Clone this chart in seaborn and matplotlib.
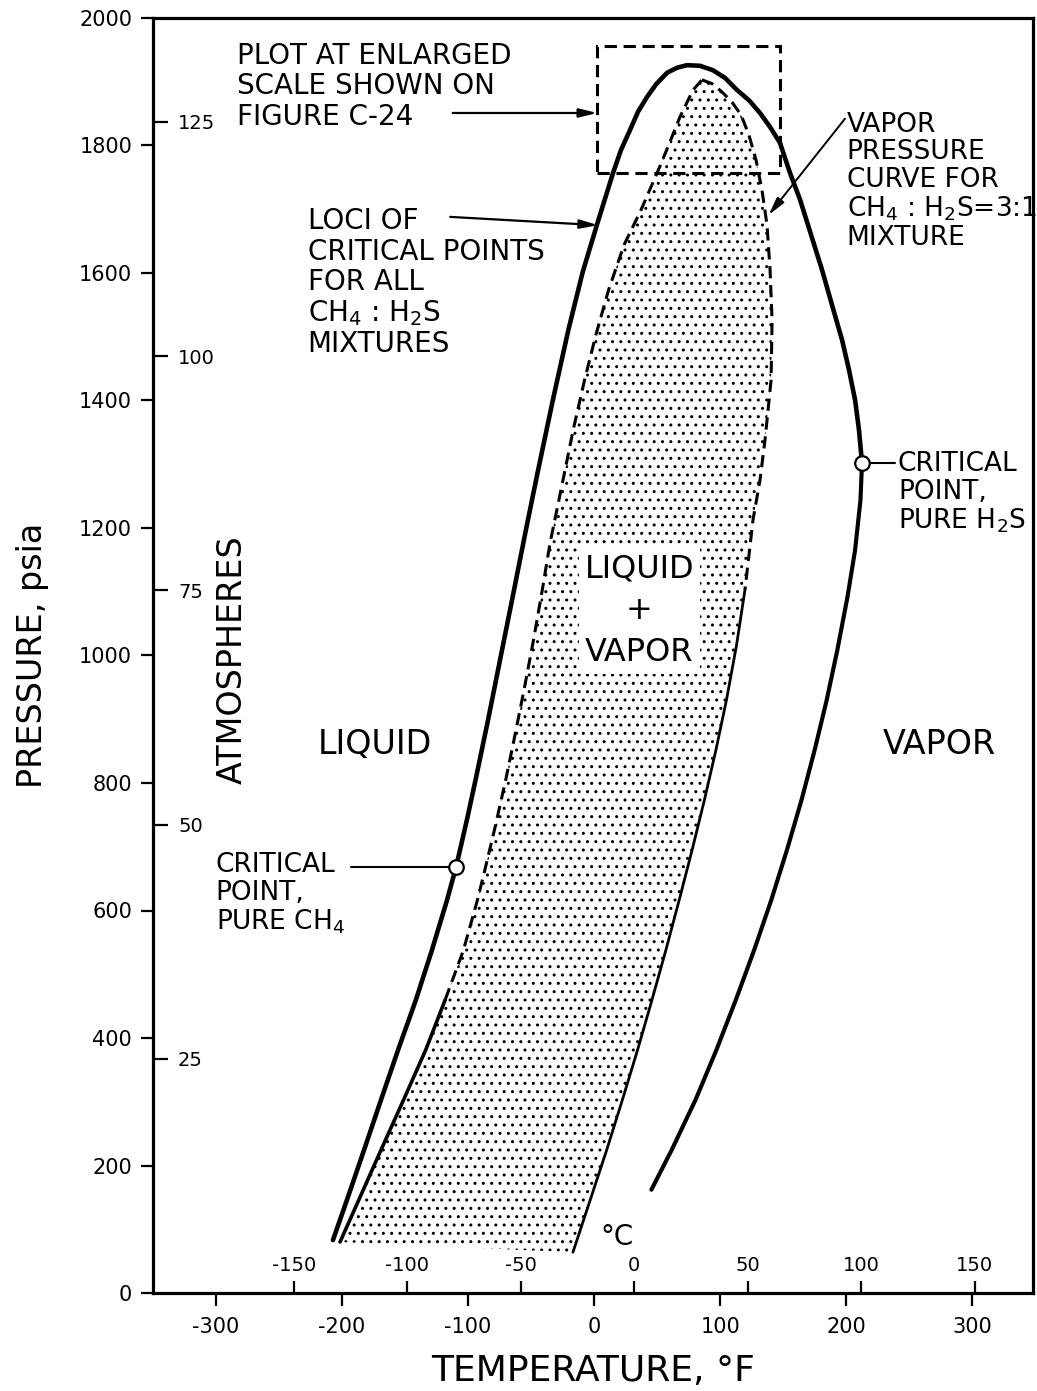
import numpy as np
import pandas as pd
import matplotlib
matplotlib.use("Agg")
import matplotlib.pyplot as plt
from matplotlib.patches import Polygon, Rectangle
import seaborn as sns

# ---- phase diagram data (temperature in deg F, pressure in psia) ----
# Vapor pressure of pure CH4 up to its critical point
ch4_T = [-207.0, -195.9, -182.4, -168.9, -155.4, -141.2, -128.5, -116.6, -109.4]
ch4_P = [83, 146, 224, 303, 381, 460, 538, 616, 668]

# Loci of critical points for all CH4 : H2S mixtures
loci_T = [-109.4, -100.8, -93.9, -84.0, -74.0, -65.0, -54.0, -44.3, -32.6,
          -20.3, -8.9, 3.0, 15.1, 21.4, 28.5, 34.9, 42.0, 49.2, 57.9, 65.8,
          73.7, 84.1, 94.4, 103.9, 113.4, 122.9, 131.6, 139.6, 147.5, 155.4,
          163.4, 172.1, 180.8, 188.7, 196.7, 202.2, 207.0, 210.1, 212.5]
loci_P = [668, 742, 805, 899, 998, 1087, 1197, 1291, 1401,
          1511, 1602, 1680, 1757, 1793, 1824, 1853, 1876, 1896, 1914, 1922,
          1926, 1925, 1918, 1906, 1887, 1871, 1851, 1829, 1804, 1757,
          1715, 1660, 1605, 1550, 1495, 1448, 1401, 1354, 1302]

# Vapor pressure of pure H2S below its critical point
h2s_T = [212.5, 211.3, 207.0, 201.0, 193.0, 184.5, 175.0, 164.5, 153.0,
         140.5, 127.0, 112.5, 97.0, 80.5, 61.5, 45.5]
h2s_P = [1302, 1244, 1165, 1092, 1009, 930, 852, 773, 695,
         616, 538, 460, 381, 303, 224, 162]

# Vapor pressure curve of the 3:1 mixture: bubble side (bottom -> top)
bubble_T = [-201.4, -186.5, -169.0, -151.0, -133.5, -118.0, -103.5, -92.5,
            -87.0, -79.0, -70.0, -63.5, -55.5, -48.0, -41.0, -34.9, -24.6,
            -16.5, -7.5, 1.5, 11.5, 23.8, 37.3, 52.0, 61.5, 68.2, 78.5, 85.6]
bubble_P = [80, 146, 224, 303, 381, 460, 538, 616,
            660, 726, 805, 867, 946, 1024, 1103, 1176, 1275,
            1354, 1432, 1503, 1573, 1644, 1699, 1766, 1812, 1845, 1887, 1903]
# dew side (top -> bottom)
dew_T = [85.6, 93.6, 101.5, 109.4, 116.6, 122.9, 128.5, 133.2, 137.2, 139.6,
         141.2, 140.4, 135.6, 131.6, 126.1, 119.7, 113.0, 105.0, 96.7, 87.5,
         77.8, 67.5, 57.0, 46.0, 34.5, 22.5, 10.0, -3.0, -16.7]
dew_P = [1903, 1897, 1884, 1868, 1848, 1816, 1777, 1730, 1675, 1605,
         1526, 1432, 1338, 1275, 1213, 1103, 1016, 930, 852, 773,
         695, 616, 538, 460, 381, 303, 224, 146, 64]

# Critical points of the pure components
crit_names = ["CH4", "H2S"]
crit_T = [-109.4, 212.4]
crit_P = [668, 1302]

# Region plotted at enlarged scale elsewhere
zoom_T = [2.6, 147.5]
zoom_P = [1757, 1956]

# Axis ticks
f_ticks = [-300, -200, -100, 0, 100, 200, 300]
c_ticks = [-150, -100, -50, 0, 50, 100, 150]
p_ticks = [0, 200, 400, 600, 800, 1000, 1200, 1400, 1600, 1800, 2000]
atm_ticks = [25, 50, 75, 100, 125]
PSIA_PER_ATM = 14.696

sns.set_theme(style="ticks", rc={
    "axes.linewidth": 2.3,
    "axes.edgecolor": "black",
    "axes.labelcolor": "black",
    "text.color": "black",
    "xtick.major.width": 1.6,
    "ytick.major.width": 1.6,
    "xtick.color": "black",
    "ytick.color": "black",
    "axes.unicode_minus": False,
    "hatch.linewidth": 1.0,
})
plt.rcParams["font.family"] = ["DejaVu Sans"]

fig = plt.figure(figsize=(10.37, 13.91), dpi=100)
ax = fig.add_axes([153 / 1037, 1 - 1293 / 1391, 880 / 1037, 1275 / 1391])
ax.set_xlim(-349.7, 348.1)
ax.set_ylim(0, 2000)

ink = "black"
thick = 3.3

# stippled two-phase region of the 3:1 mixture
region = np.column_stack([bubble_T + dew_T, bubble_P + dew_P])
ax.add_patch(Polygon(region, closed=True, facecolor="none", edgecolor=ink,
                     hatch="..", linewidth=0, zorder=1))

def curve(T, P, **kw):
    df = pd.DataFrame({"T": T, "P": P})
    sns.lineplot(data=df, x="T", y="P", sort=False, estimator=None,
                 color=ink, ax=ax, **kw)

curve(ch4_T, ch4_P, linewidth=thick, zorder=3)
curve(loci_T, loci_P, linewidth=thick, zorder=3)
curve(h2s_T, h2s_P, linewidth=thick * 0.9, zorder=3)

# bubble / dew boundary: solid at low pressure, dashed above
nb, nd = 6, 16
curve(bubble_T[:nb], bubble_P[:nb], linewidth=2.6, zorder=2)
curve(bubble_T[nb - 1:], bubble_P[nb - 1:], linewidth=2.2, zorder=2,
      dashes=(4, 2.2))
curve(dew_T[:nd], dew_P[:nd], linewidth=2.2, zorder=2, dashes=(4, 2.2))
curve(dew_T[nd - 1:], dew_P[nd - 1:], linewidth=2.0, zorder=2)

# dashed box marking the enlarged region
ax.add_patch(Rectangle((zoom_T[0], zoom_P[0]), zoom_T[1] - zoom_T[0],
                       zoom_P[1] - zoom_P[0], fill=False, edgecolor=ink,
                       linewidth=2.2, linestyle=(0, (4, 2.2)), zorder=2))

# critical points
sns.scatterplot(x=crit_T, y=crit_P, ax=ax, s=110, marker="o",
                facecolor="white", edgecolor=ink, linewidth=1.6, zorder=5)

# ---- axes and ticks ----
ax.set_xticks(f_ticks)
ax.set_yticks(p_ticks)
ax.tick_params(axis="both", direction="out", length=9, labelsize=15, pad=6)
ax.tick_params(axis="x", pad=8)
ax.set_xlabel("TEMPERATURE, °F", fontsize=26)
ax.set_ylabel("PRESSURE, psia", fontsize=24)
ax.xaxis.set_label_coords(0.5, -0.048)
ax.yaxis.set_label_coords(-0.118, 0.5)
for s in ax.spines.values():
    s.set_visible(True)

# Celsius scale inside the bottom edge
secx = ax.secondary_xaxis("bottom", functions=(lambda f: (f - 32) * 5 / 9,
                                               lambda c: c * 9 / 5 + 32))
secx.set_alignment("top")
secx.set_xticks(c_ticks)
secx.tick_params(direction="out", length=9, width=1.6, labelsize=14, pad=4)
secx.spines["top"].set_linewidth(0)

# Atmospheres scale inside the left edge
secy = ax.secondary_yaxis("left", functions=(lambda p: p / PSIA_PER_ATM,
                                             lambda a: a * PSIA_PER_ATM))
secy.set_alignment("right")
secy.set_yticks(atm_ticks)
secy.tick_params(direction="out", length=11, width=1.6, labelsize=14, pad=7)
secy.spines["right"].set_linewidth(0)

ax.text(-287, 993, "ATMOSPHERES", rotation=90, fontsize=24,
        ha="center", va="center")

# ---- annotations ----
fs = 20
arrow = dict(arrowstyle="-|>,head_length=0.9,head_width=0.22",
             color=ink, lw=1.6, shrinkA=0, shrinkB=0)
ax.text(-283, 1962, "PLOT AT ENLARGED\nSCALE SHOWN ON\nFIGURE C-24",
        fontsize=fs, ha="left", va="top", linespacing=1.1)
ax.annotate("", xy=(zoom_T[0], 1851), xytext=(-112, 1851), arrowprops=arrow)

ax.text(-227, 1703,
        "LOCI OF\nCRITICAL POINTS\nFOR ALL\nCH$_4$ : H$_2$S\nMIXTURES",
        fontsize=fs, ha="left", va="top", linespacing=1.1)
ax.annotate("", xy=(3.2, 1675), xytext=(-114, 1688), arrowprops=arrow)

ax.text(200.5, 1853,
        "VAPOR\nPRESSURE\nCURVE FOR\nCH$_4$ : H$_2$S=3:1\nMIXTURE",
        fontsize=19, ha="left", va="top", linespacing=1.08)
ax.annotate("", xy=(138.5, 1691), xytext=(199, 1842),
            arrowprops=dict(arrow, lw=1.4))

ax.text(241, 1320, "CRITICAL\nPOINT,\nPURE H$_2$S", fontsize=19,
        ha="left", va="top", linespacing=1.08)
ax.plot([crit_T[1] + 5, 239], [crit_P[1], crit_P[1]], color=ink, lw=1.5,
        zorder=4)

ax.text(-300, 691, "CRITICAL\nPOINT,\nPURE CH$_4$", fontsize=19,
        ha="left", va="top", linespacing=1.08)
ax.plot([-193, crit_T[0] - 5], [crit_P[0], crit_P[0]], color=ink, lw=1.5,
        zorder=4)

ax.text(-174, 860, "LIQUID", fontsize=24, ha="center", va="center")
ax.text(274, 860, "VAPOR", fontsize=24, ha="center", va="center")
ax.text(36, 1070, "LIQUID\n+\nVAPOR", fontsize=23, ha="center",
        va="center", linespacing=1.45, zorder=6,
        bbox=dict(facecolor="white", edgecolor="none", pad=4))
ax.text(18, 88, "°C", fontsize=20, ha="center", va="center")

fig.savefig("out.png", dpi=100)
